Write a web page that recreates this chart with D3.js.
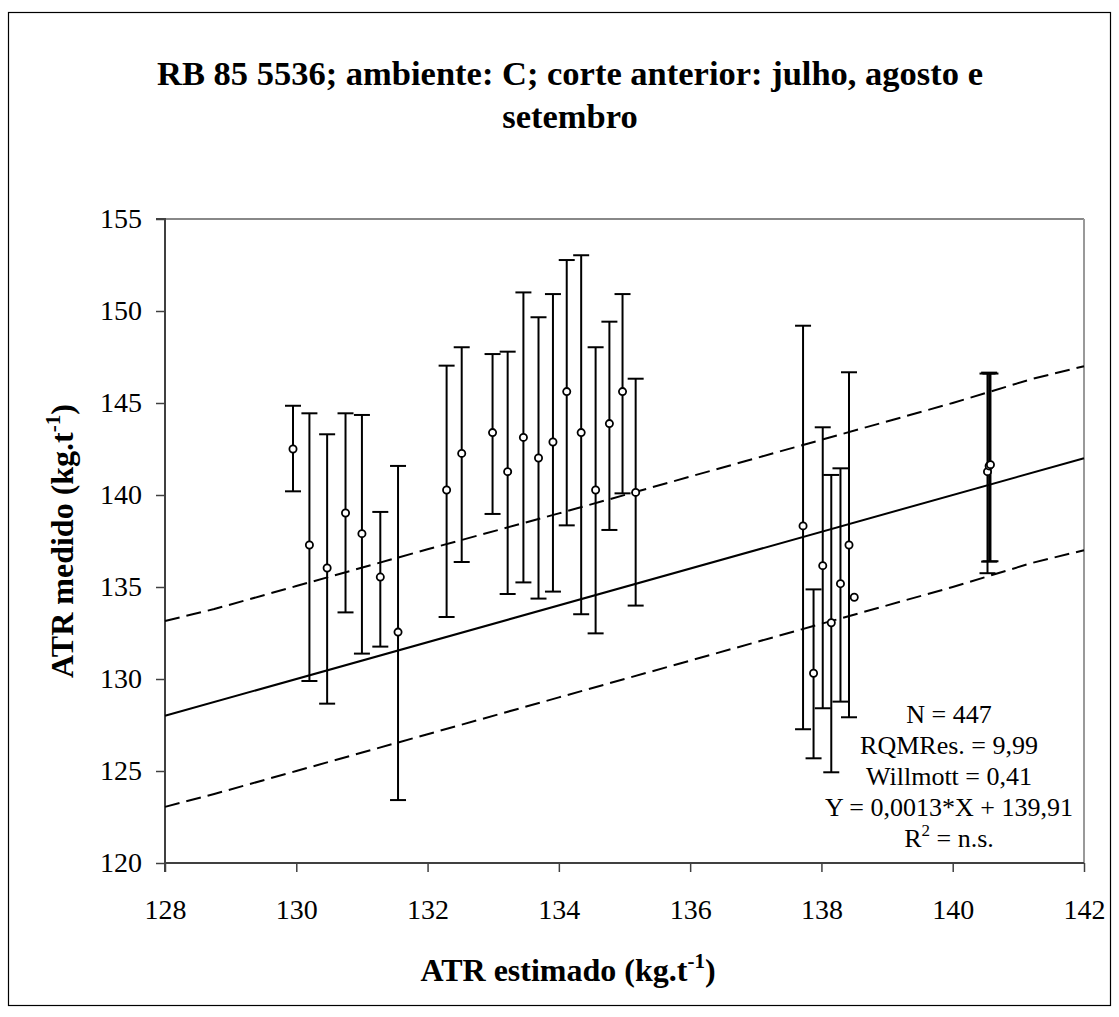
<!DOCTYPE html>
<html>
<head>
<meta charset="utf-8">
<script src="https://cdn.jsdelivr.net/npm/d3@7"></script>
<style>
  html, body { margin: 0; padding: 0; background: #fff; }
  svg { display: block; }
  text { font-family: "Liberation Serif", "Times New Roman", serif; fill: #000; }
</style>
</head>
<body>
<svg id="chart" width="1119" height="1017"></svg>
<script>
// ---- Data ----
const xEstimado = [129.95, 130.2, 130.47, 130.75, 131.0, 131.28, 131.55, 132.29, 132.52, 132.99,
                   133.22, 133.46, 133.69, 133.91, 134.12, 134.34, 134.56, 134.77, 134.97, 135.17,
                   137.72, 137.88, 138.02, 138.15, 138.29, 138.42, 138.50, 140.53, 140.555, 140.575];
const yMedido   = [142.5, 137.28, 136.03, 139.02, 137.9, 135.54, 132.55, 140.27, 142.26, 143.39,
                   141.27, 143.13, 142.01, 142.88, 145.62, 143.39, 140.27, 143.88, 145.62, 140.14,
                   138.32, 130.31, 136.16, 133.06, 135.18, 137.28, 134.44, 141.27, 141.58, 141.65];
const errTop    = [144.85, 144.44, 143.3, 144.44, 144.35, 139.08, 141.58, 147.03, 148.03, 147.66,
                   147.79, 151.01, 149.66, 150.92, 152.77, 153.03, 148.03, 149.42, 150.92, 146.32,
                   149.2, 134.87, 143.68, 141.09, 141.45, 146.67, null, 146.6, 146.65, 146.6];
const errBottom = [140.2, 129.89, 128.66, 133.62, 131.38, 131.76, 123.42, 133.37, 136.36, 138.97,
                   134.62, 135.25, 134.37, 134.75, 138.35, 133.52, 132.48, 138.1, 140.09, 133.99,
                   127.27, 125.69, 128.41, 124.93, 128.77, 127.92, null, 135.75, 136.38, 136.4];

// reference 1:1 line and dashed bands
const lineX = [128, 142];
const lineY = [128, 142];
const bandX     = [128, 128.75, 130, 132, 134, 136, 138, 140, 141.2, 142];
const bandUpper = [133.15, 133.8, 135.05, 137.05, 139.0, 141.0, 143.0, 145.0, 146.3, 147.0];
const bandLower = [123.05, 123.75, 125.0, 127.0, 129.0, 131.0, 133.0, 135.0, 136.3, 137.0];

const xTicks = [128, 130, 132, 134, 136, 138, 140, 142];
const yTicks = [120, 125, 130, 135, 140, 145, 150, 155];

const titleLines = ["RB 85 5536; ambiente: C; corte anterior: julho, agosto e", "setembro"];
const statLines = ["N = 447", "RQMRes. = 9,99", "Willmott = 0,41", "Y = 0,0013*X + 139,91"];

// ---- Layout ----
const FONT = "Liberation Serif";
const L = 165, R = 1084, T = 219, B = 863;
const svg = d3.select("#chart");

const x = d3.scaleLinear().domain([128, 142]).range([L, R]);
const y = d3.scaleLinear().domain([120, 155]).range([B, T]);

// outer frame
svg.append("rect").attr("x", 8.5).attr("y", 12.5).attr("width", 1102).attr("height", 993)
  .attr("fill", "none").attr("stroke", "#000").attr("stroke-width", 1.2);

// Title
titleLines.forEach((t, i) => {
  svg.append("text").attr("x", 570).attr("y", 85 + i * 43).attr("text-anchor", "middle")
    .attr("font-family", FONT).attr("font-size", 34.5).attr("font-weight", "bold").text(t);
});

// plot border top & right (gray)
svg.append("line").attr("x1", L).attr("x2", R).attr("y1", T).attr("y2", T)
  .attr("stroke", "#888").attr("stroke-width", 2);
svg.append("line").attr("x1", R).attr("x2", R).attr("y1", T).attr("y2", B)
  .attr("stroke", "#999").attr("stroke-width", 2);

// axes
const yAxis = d3.axisLeft(y).tickValues(yTicks).tickSize(9).tickPadding(14).tickFormat(d3.format("d"));
const gy = svg.append("g").attr("transform", `translate(${L},0)`).call(yAxis);
gy.attr("font-family", FONT);
gy.select(".domain").attr("stroke", "#404040").attr("stroke-width", 2);
gy.selectAll(".tick line").attr("stroke", "#404040").attr("stroke-width", 1.5);
gy.selectAll(".tick text").attr("font-size", 28).attr("font-family", FONT).attr("fill", "#000");

const xAxis = d3.axisBottom(x).tickValues(xTicks).tickSize(9).tickPadding(27).tickFormat(d3.format("d"));
const gx = svg.append("g").attr("transform", `translate(0,${B})`).call(xAxis);
gx.attr("font-family", FONT);
gx.select(".domain").attr("stroke", "#404040").attr("stroke-width", 2);
gx.selectAll(".tick line").attr("stroke", "#404040").attr("stroke-width", 1.5);
gx.selectAll(".tick text").attr("font-size", 28).attr("font-family", FONT).attr("fill", "#000");
gy.select(".domain").attr("d", `M-9,${T}H0V${B}`);
gx.select(".domain").attr("d", `M${L},9V0H${R}`);

// axis titles
const xt = svg.append("text").attr("x", 568).attr("y", 981).attr("text-anchor", "middle")
  .attr("font-family", FONT).attr("font-size", 32).attr("font-weight", "bold");
xt.append("tspan").text("ATR estimado (kg.t");
xt.append("tspan").attr("font-size", 21).attr("dy", -13).text("-1");
xt.append("tspan").attr("dy", 13).text(")");

const yt = svg.append("text").attr("transform", `translate(73,${(T + B) / 2}) rotate(-90)`)
  .attr("text-anchor", "middle").attr("font-family", FONT).attr("font-size", 32).attr("font-weight", "bold");
yt.append("tspan").text("ATR medido (kg.t");
yt.append("tspan").attr("font-size", 21).attr("dy", -13).text("-1");
yt.append("tspan").attr("dy", 13).text(")");

// lines
const lineGen = d3.line().x(d => x(d[0])).y(d => y(d[1]));
svg.append("path").datum(lineX.map((v, i) => [v, lineY[i]])).attr("d", lineGen)
  .attr("fill", "none").attr("stroke", "#000").attr("stroke-width", 2);
[bandUpper, bandLower].forEach(band => {
  svg.append("path").datum(bandX.map((v, i) => [v, band[i]])).attr("d", lineGen)
    .attr("fill", "none").attr("stroke", "#000").attr("stroke-width", 2)
    .attr("stroke-dasharray", "15,7");
});

// error bars
const pts = xEstimado.map((v, i) => ({ x: v, y: yMedido[i], top: errTop[i], bot: errBottom[i] }));
const eb = svg.append("g");
pts.filter(d => d.top !== null).forEach(d => {
  eb.append("line").attr("x1", x(d.x)).attr("x2", x(d.x)).attr("y1", y(d.top)).attr("y2", y(d.bot))
    .attr("stroke", "#000").attr("stroke-width", 2);
  [d.top, d.bot].forEach(v => {
    eb.append("line").attr("x1", x(d.x) - 8).attr("x2", x(d.x) + 8).attr("y1", y(v)).attr("y2", y(v))
      .attr("stroke", "#000").attr("stroke-width", 2);
  });
});
svg.append("g").selectAll("circle").data(pts).join("circle")
  .attr("cx", d => x(d.x)).attr("cy", d => y(d.y)).attr("r", 3.6)
  .attr("fill", "#fff").attr("stroke", "#000").attr("stroke-width", 1.8);

// stats annotation
statLines.forEach((s, i) => {
  svg.append("text").attr("x", 949).attr("y", 723 + i * 31).attr("text-anchor", "middle")
    .attr("font-family", FONT).attr("font-size", 26).text(s);
});
const r2 = svg.append("text").attr("x", 949).attr("y", 847).attr("text-anchor", "middle")
  .attr("font-family", FONT).attr("font-size", 26);
r2.append("tspan").text("R");
r2.append("tspan").attr("font-size", 17).attr("dy", -11).text("2");
r2.append("tspan").attr("dy", 11).text(" = n.s.");
</script>
</body>
</html>
